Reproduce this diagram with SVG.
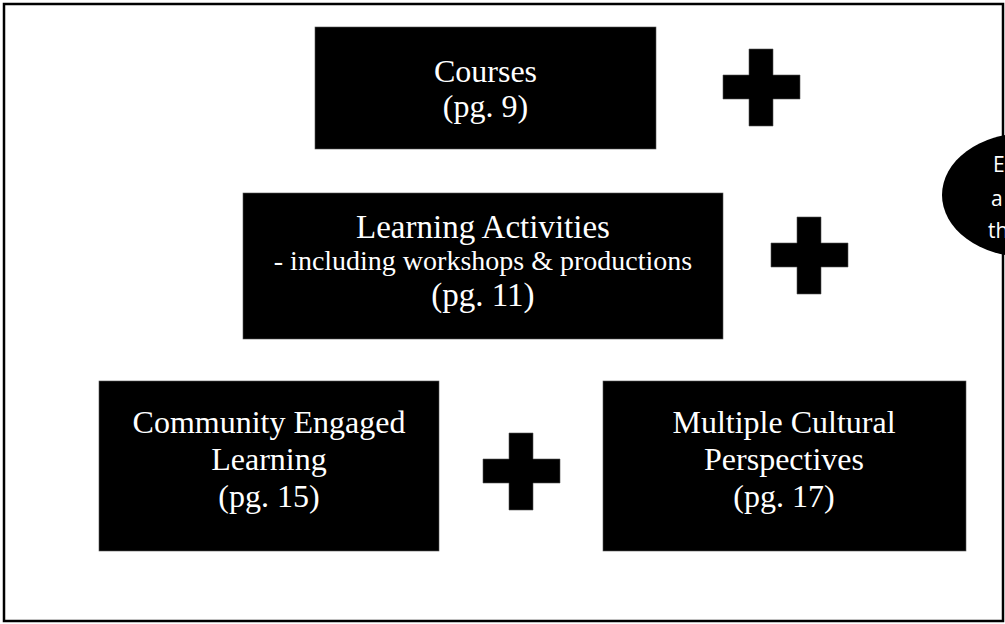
<svg xmlns="http://www.w3.org/2000/svg" xmlns:xlink="http://www.w3.org/1999/xlink" width="1005" height="624" viewBox="0 0 1005 624">
  <style>
    .box { fill: #000; stroke: #555; stroke-width: 0.6; }
    .plus { fill: #000; stroke: #555; stroke-width: 0.6; }
    .t { fill: #fff; font-family: "Liberation Serif", "Times New Roman", serif; font-size: 32px; text-anchor: middle; }
    .big { font-size: 33px; }
    .small { font-size: 28px; }
    .s { fill: #fff; font-family: "Open Sans", "Liberation Sans", sans-serif; font-size: 21px; }
  </style>
  <defs>
    <path id="plusShape" class="plus" d="M26,0 H50 V26 H77 V50 H50 V77 H26 V50 H0 V26 H26 Z"/>
  </defs>
  <rect x="0" y="0" width="1005" height="624" fill="#fff"/>
  <rect id="frame" x="4" y="4" width="999" height="617" fill="none" stroke="#000" stroke-width="2.5"/>

  <g id="courses">
    <rect class="box" x="315" y="27" width="341" height="122"/>
    <text class="t" x="485.5" y="82">Courses</text>
    <text class="t" x="485.5" y="117">(pg. 9)</text>
  </g>

  <g id="learning-activities">
    <rect class="box" x="243" y="193" width="480" height="146"/>
    <text class="t big" x="483" y="238">Learning Activities</text>
    <text class="t small" x="483" y="270">- including workshops &amp; productions</text>
    <text class="t big" x="483" y="306">(pg. 11)</text>
  </g>

  <g id="community-engaged-learning">
    <rect class="box" x="99" y="381" width="340" height="170"/>
    <text class="t" x="269" y="433">Community Engaged</text>
    <text class="t" x="269" y="470">Learning</text>
    <text class="t" x="269" y="507">(pg. 15)</text>
  </g>

  <g id="multiple-cultural-perspectives">
    <rect class="box" x="603" y="381" width="363" height="170"/>
    <text class="t" x="784" y="433">Multiple Cultural</text>
    <text class="t" x="784" y="470">Perspectives</text>
    <text class="t" x="784" y="507">(pg. 17)</text>
  </g>

  <g id="plus-1"><use xlink:href="#plusShape" href="#plusShape" transform="translate(723,49)"/></g>
  <g id="plus-2"><use xlink:href="#plusShape" href="#plusShape" transform="translate(771,217)"/></g>
  <g id="plus-3"><use xlink:href="#plusShape" href="#plusShape" transform="translate(483,433)"/></g>

  <g id="oval">
    <ellipse cx="1026" cy="195" rx="84" ry="62" fill="#000"/>
    <text class="s" x="993" y="172">E</text>
    <text class="s" x="991" y="206">a</text>
    <text class="s" x="988" y="238">th</text>
  </g>

  <g id="connectors"></g>
</svg>
